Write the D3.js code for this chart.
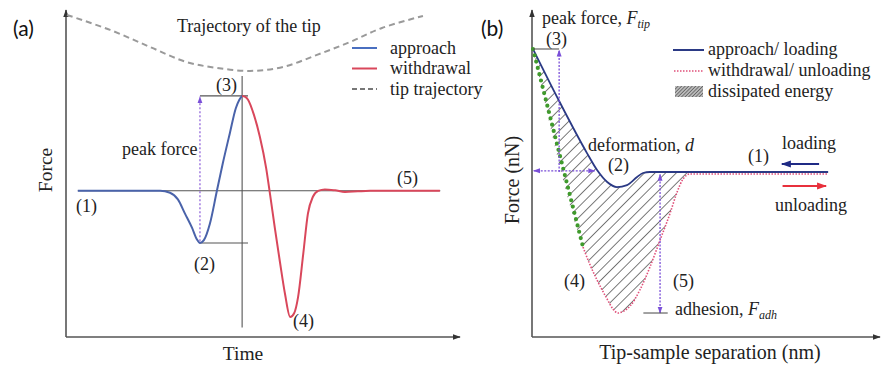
<!DOCTYPE html>
<html><head><meta charset="utf-8">
<script src="https://cdn.jsdelivr.net/npm/d3@7"></script>
<style>
html,body{margin:0;padding:0;background:#fff;}
svg{display:block;}
text{font-family:"Liberation Serif","Times New Roman",serif;fill:#222;}
</style></head>
<body>
<svg id="chart" width="881" height="369"></svg>
<script>
// ---------- Panel (a): force vs time ----------
const timeApproach  = [3.0, 23.9, 26.4, 28.4, 30.2, 32.0, 33.2, 34.0, 35.0, 36.5, 38.3, 39.8, 41.6, 43.1, 44.0, 44.7];
const forceApproach = [0, 0, -0.02, -0.09, -0.24, -0.39, -0.51, -0.55, -0.52, -0.35, 0, 0.29, 0.61, 0.87, 0.96, 1.0];
const timeWithdraw  = [44.7, 45.5, 46.2, 47.7, 49.2, 50.8, 51.8, 53.0, 54.3, 55.6, 56.9, 57.9, 58.9, 60.2, 61.4, 62.7, 64.0, 65.7, 68.3, 70.8, 74.1, 77.2, 94.9];
const forceWithdraw = [1.0, 0.99, 0.96, 0.8, 0.57, 0.24, -0.04, -0.39, -0.75, -1.09, -1.33, -1.29, -1.12, -0.67, -0.24, -0.06, 0, 0.015, 0.005, -0.012, -0.005, 0, 0];
const trajTime   = [0.25, 11.2, 21.3, 30.5, 38.3, 46.7, 55.1, 63.7, 72.1, 80.2, 90.6];
const trajHeight = [1.853, 1.695, 1.516, 1.358, 1.295, 1.263, 1.305, 1.432, 1.568, 1.716, 1.842];
const legendA = ["approach", "withdrawal", "tip trajectory"];

// ---------- Panel (b): force vs tip-sample separation ----------
const sepApproach   = [0.29, 7.8, 15.8, 18.7, 21.6, 24.4, 27.3, 30.2, 31.9, 33.9, 45.4, 85.1];
const forceApproachB= [1.0, 0.577, 0.154, 0.016, -0.081, -0.122, -0.106, -0.041, -0.008, 0, 0, 0];
const sepElastic    = [0.29, 14.66];
const forceElastic  = [1.0, -0.61];
const sepWithdraw   = [14.66, 16.7, 18.7, 21.6, 23.3, 24.7, 26.4, 28.2, 31.0, 33.9, 36.8, 39.7, 41.7, 43.4, 45.4, 48.3, 85.1];
const forceWithdrawB= [-0.61, -0.756, -0.878, -1.033, -1.114, -1.146, -1.13, -1.089, -0.959, -0.772, -0.553, -0.333, -0.163, -0.057, -0.016, -0.016, -0.016];
const legendB = ["approach/ loading", "withdrawal/ unloading", "dissipated energy"];

const svg = d3.select("#chart");
const defs = svg.append("defs");
function marker(id, color, size){
  defs.append("marker").attr("id", id).attr("viewBox","0 0 10 10").attr("refX",9).attr("refY",5)
    .attr("markerWidth",size).attr("markerHeight",size).attr("orient","auto-start-reverse")
    .attr("markerUnits","userSpaceOnUse")
    .append("path").attr("d","M0,1.5L10,5L0,8.5Z").attr("fill",color);
}
marker("axArrow","#333",8);
marker("purpArrow","#7a4fd8",7);
marker("blueArrow","#1f2a85",10);
marker("redArrow","#e8303c",10);
const hatch = defs.append("pattern").attr("id","hatch").attr("patternUnits","userSpaceOnUse")
  .attr("width",7.5).attr("height",7.5).attr("patternTransform","rotate(45)");
hatch.append("line").attr("x1",0).attr("y1",0).attr("x2",0).attr("y2",7.5).attr("stroke","#333").attr("stroke-width",1.3);
const hatchLeg = defs.append("pattern").attr("id","hatchLeg").attr("patternUnits","userSpaceOnUse")
  .attr("width",2.5).attr("height",2.5).attr("patternTransform","rotate(45)");
hatchLeg.append("rect").attr("width",2.5).attr("height",2.5).attr("fill","#bbb");
hatchLeg.append("line").attr("x1",0).attr("y1",0).attr("x2",0).attr("y2",2.5).attr("stroke","#444").attr("stroke-width",1.2);

const zip = (xs, ys) => xs.map((x,i)=>[x, ys[i]]);

// ===== Panel (a) =====
const xA = d3.scaleLinear().domain([0,100]).range([66,460]);
const yA = d3.scaleLinear().domain([-1.54,1.905]).range([337,10]);
const gA = svg.append("g");
const lineA = d3.line().x(d=>xA(d[0])).y(d=>yA(d[1])).curve(d3.curveMonotoneX);
const lineTraj = d3.line().x(d=>xA(d[0])).y(d=>yA(d[1])).curve(d3.curveCatmullRom);

// axes
gA.append("line").attr("x1",xA(0)).attr("x2",xA(0)).attr("y1",yA(-1.54)).attr("y2",yA(1.905))
  .attr("stroke","#555").attr("stroke-width",1.6).attr("marker-end","url(#axArrow)");
gA.append("line").attr("x1",xA(0)).attr("x2",xA(100)).attr("y1",yA(-1.54)).attr("y2",yA(-1.54))
  .attr("stroke","#555").attr("stroke-width",1.6).attr("marker-end","url(#axArrow)");
// reference lines
gA.append("line").attr("x1",xA(3)).attr("x2",xA(95)).attr("y1",yA(0)).attr("y2",yA(0)).attr("stroke","#555").attr("stroke-width",1.1);
gA.append("line").attr("x1",xA(44.7)).attr("x2",xA(44.7)).attr("y1",yA(1.21)).attr("y2",yA(-1.44)).attr("stroke","#555").attr("stroke-width",1.1);
gA.append("line").attr("x1",xA(34)).attr("x2",xA(46.2)).attr("y1",yA(1.0)).attr("y2",yA(1.0)).attr("stroke","#555").attr("stroke-width",1.1);
gA.append("line").attr("x1",xA(34)).attr("x2",xA(46.2)).attr("y1",yA(-0.55)).attr("y2",yA(-0.55)).attr("stroke","#555").attr("stroke-width",1.1);
// peak force arrow
gA.append("line").attr("x1",xA(34)).attr("x2",xA(34)).attr("y1",yA(-0.53)).attr("y2",yA(0.99))
  .attr("stroke","#8a5ad8").attr("stroke-width",1.2).attr("stroke-dasharray","2 2").attr("marker-end","url(#purpArrow)");
// trajectory
gA.append("path").attr("d",lineTraj(zip(trajTime,trajHeight))).attr("fill","none")
  .attr("stroke","#9a9a9a").attr("stroke-width",2).attr("stroke-dasharray","6 4");
// curves
gA.append("path").attr("d",lineA(zip(timeApproach,forceApproach))).attr("fill","none").attr("stroke","#4a63aa").attr("stroke-width",2);
gA.append("path").attr("d",lineA(zip(timeWithdraw,forceWithdraw))).attr("fill","none").attr("stroke","#d9475b").attr("stroke-width",2);

const tA = [
  ["Trajectory of the tip",177,32],["(3)",216,91],["peak force",122,155],["(1)",76,212],
  ["(2)",194,270],["(4)",293,327],["(5)",397,184]
];
tA.forEach(t=>gA.append("text").attr("x",t[1]).attr("y",t[2]).attr("font-size",18).text(t[0]));
gA.append("text").attr("x",243).attr("y",360).attr("font-size",19.5).attr("text-anchor","middle").text("Time");
gA.append("text").attr("transform","translate(52,170) rotate(-90)").attr("font-size",19.5).attr("text-anchor","middle").text("Force");
gA.append("text").attr("x",13).attr("y",36).attr("font-size",21).style("font-family","Lato, 'Open Sans', sans-serif").style("fill","#111").text("(a)");
// legend (a)
const legColorsA = ["#4a6fc0","#d9475b","#777"];
legendA.forEach((s,i)=>{
  const y = 48 + i*20.5;
  gA.append("line").attr("x1",352).attr("x2",377).attr("y1",y).attr("y2",y).attr("stroke",legColorsA[i])
    .attr("stroke-width",2).attr("stroke-dasharray", i===2 ? "5 3" : null);
  gA.append("text").attr("x",390).attr("y",y+5.5).attr("font-size",18).text(s);
});

// ===== Panel (b) =====
const xB = d3.scaleLinear().domain([0,100]).range([532,880]);
const yB = d3.scaleLinear().domain([-1.341,1.317]).range([337,10]);
const gB = svg.append("g");
const lineB = d3.line().x(d=>xB(d[0])).y(d=>yB(d[1])).curve(d3.curveMonotoneX);
const lineLin = d3.line().x(d=>xB(d[0])).y(d=>yB(d[1]));

// hatched dissipated energy region
const upper = zip(sepApproach,forceApproachB).filter(d=>d[0]<=45.4);
const lower = zip(sepElastic,forceElastic).concat(zip(sepWithdraw,forceWithdrawB).slice(1).filter(d=>d[0]<=45.4));
const pathUp = lineB(upper);
const pathLow = lineB(lower.slice().reverse());
gB.append("path").attr("d", pathUp + "L" + pathLow.slice(1) + "Z").attr("fill","url(#hatch)").attr("stroke","none");

// axes
gB.append("line").attr("x1",xB(0)).attr("x2",xB(0)).attr("y1",yB(-1.341)).attr("y2",yB(1.317))
  .attr("stroke","#555").attr("stroke-width",1.6).attr("marker-end","url(#axArrow)");
gB.append("line").attr("x1",xB(0)).attr("x2",xB(100)).attr("y1",yB(-1.341)).attr("y2",yB(-1.341))
  .attr("stroke","#555").attr("stroke-width",1.6).attr("marker-end","url(#axArrow)");

// curves
gB.append("path").attr("d",lineB(zip(sepWithdraw,forceWithdrawB))).attr("fill","none")
  .attr("stroke","#e0507a").attr("stroke-width",1.6).attr("stroke-dasharray","1.5 1.5");
gB.append("path").attr("d",lineB(zip(sepApproach,forceApproachB))).attr("fill","none").attr("stroke","#2b3a85").attr("stroke-width",1.8);
gB.append("path").attr("d",lineLin(zip(sepElastic,forceElastic))).attr("fill","none")
  .attr("stroke","#3f9a2c").attr("stroke-width",4.2).attr("stroke-linecap","round").attr("stroke-dasharray","0 6.5");

// annotations
gB.append("line").attr("x1",xB(0.29)).attr("x2",xB(7.8)).attr("y1",yB(1)).attr("y2",yB(1)).attr("stroke","#555").attr("stroke-width",1.1);
gB.append("line").attr("x1",xB(7.8)).attr("x2",xB(7.8)).attr("y1",yB(0)).attr("y2",yB(0.99))
  .attr("stroke","#7a4fd8").attr("stroke-width",1.3).attr("stroke-dasharray","2 1.5").attr("marker-end","url(#purpArrow)");
gB.append("line").attr("x1",xB(0.5)).attr("x2",xB(18.0)).attr("y1",yB(0.01)).attr("y2",yB(0.01))
  .attr("stroke","#7a4fd8").attr("stroke-width",1.3).attr("stroke-dasharray","2 1.5")
  .attr("marker-start","url(#purpArrow)").attr("marker-end","url(#purpArrow)");
gB.append("line").attr("x1",xB(36.8)).attr("x2",xB(36.8)).attr("y1",yB(-0.02)).attr("y2",yB(-1.146))
  .attr("stroke","#7a4fd8").attr("stroke-width",1.3).attr("stroke-dasharray","2 1.5")
  .attr("marker-start","url(#purpArrow)").attr("marker-end","url(#purpArrow)");
gB.append("line").attr("x1",xB(32)).attr("x2",xB(39)).attr("y1",yB(-1.146)).attr("y2",yB(-1.146)).attr("stroke","#555").attr("stroke-width",1.1);
// direction arrows
gB.append("line").attr("x1",xB(82.5)).attr("x2",xB(71.8)).attr("y1",164).attr("y2",164)
  .attr("stroke","#1f2a85").attr("stroke-width",2.2).attr("marker-end","url(#blueArrow)");
gB.append("line").attr("x1",xB(72)).attr("x2",xB(84.5)).attr("y1",186).attr("y2",186)
  .attr("stroke","#e8303c").attr("stroke-width",2).attr("marker-end","url(#redArrow)");

const tB = [["(3)",546,45],["(2)",608,171],["(1)",748,162],["loading",782,149],
  ["unloading",775,211],["(4)",564,287],["(5)",673,287]];
tB.forEach(t=>gB.append("text").attr("x",t[1]).attr("y",t[2]).attr("font-size",18).text(t[0]));
const deform = gB.append("text").attr("x",588).attr("y",151).attr("font-size",18);
deform.append("tspan").text("deformation, ");
deform.append("tspan").style("font-style","italic").text("d");
function subText(x,y,main,sym,sub){
  const t = gB.append("text").attr("x",x).attr("y",y).attr("font-size",18);
  t.append("tspan").text(main);
  t.append("tspan").style("font-style","italic").text(sym);
  t.append("tspan").style("font-style","italic").attr("font-size",12).attr("dy",4).text(sub);
}
subText(542,24,"peak force, ","F","tip");
subText(675,315,"adhesion, ","F","adh");
gB.append("text").attr("x",710).attr("y",359).attr("font-size",20).attr("text-anchor","middle").text("Tip-sample separation (nm)");
gB.append("text").attr("transform","translate(519,180) rotate(-90)").attr("font-size",20).attr("text-anchor","middle").text("Force (nN)");
gB.append("text").attr("x",481).attr("y",36).attr("font-size",21).style("font-family","Lato, 'Open Sans', sans-serif").style("fill","#111").text("(b)");
// legend (b)
gB.append("line").attr("x1",673).attr("x2",704).attr("y1",50).attr("y2",50).attr("stroke","#2b3a85").attr("stroke-width",2);
gB.append("line").attr("x1",674).attr("x2",704).attr("y1",71).attr("y2",71).attr("stroke","#e0507a").attr("stroke-width",1.6).attr("stroke-dasharray","1.5 1.5");
gB.append("rect").attr("x",675).attr("y",86).attr("width",28).attr("height",11).attr("fill","url(#hatchLeg)");
legendB.forEach((s,i)=>gB.append("text").attr("x",708).attr("y",[55,76,97][i]).attr("font-size",18).text(s));
</script>
</body></html>
